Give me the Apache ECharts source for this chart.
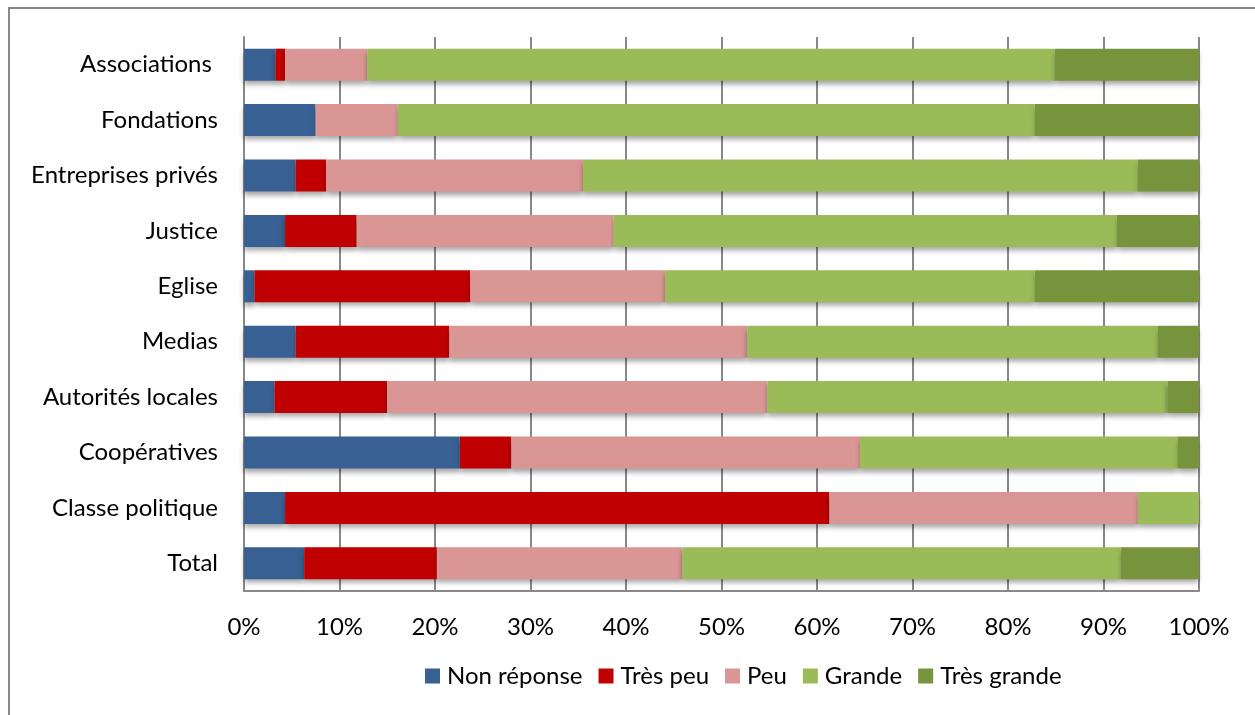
<!DOCTYPE html>
<html>
<head>
<meta charset="utf-8">
<script src="https://cdn.jsdelivr.net/npm/echarts@6/dist/echarts.min.js"></script>
<style>
html, body { margin: 0; padding: 0; background: #fff; }
#chart { width: 1255px; height: 715px; }
</style>
</head>
<body>
<div id="chart"></div>
<script>
"use strict";

var categories = ["Associations ", "Fondations", "Entreprises privés", "Justice", "Eglise",
    "Medias", "Autorités locales", "Coopératives", "Classe politique", "Total"];
var seriesNames = ["Non réponse", "Très peu", "Peu", "Grande", "Très grande"];
var nonReponse = [3.3, 7.5, 5.4, 4.3, 1.1, 5.4, 3.2, 22.6, 4.3, 6.3];
var tresPeu = [1.0, 0, 3.2, 7.5, 22.6, 16.1, 11.8, 5.4, 57.0, 13.9];
var peu = [8.6, 8.6, 26.9, 26.9, 20.4, 31.2, 39.8, 36.5, 32.3, 25.7];
var grande = [72.0, 66.7, 58.1, 52.7, 38.7, 43.0, 41.9, 33.3, 6.4, 45.9];
var tresGrande = [15.1, 17.2, 6.4, 8.6, 17.2, 4.3, 3.3, 2.2, 0, 8.2];
var colors = ["#386092", "#C00000", "#D99694", "#9BBB59", "#77933C"];

var chart = echarts.init(document.getElementById("chart"));
var allData = [nonReponse, tresPeu, peu, grande, tresGrande];
var series = [];
for (var i = 0; i < seriesNames.length; i++) {
    series.push({
        name: seriesNames[i],
        type: "bar",
        stack: "total",
        barWidth: 32,
        data: allData[i],
        itemStyle: {
            color: colors[i],
            shadowColor: "rgba(0,0,0,0.35)",
            shadowBlur: 5,
            shadowOffsetY: 4
        },
        emphasis: { disabled: true }
    });
}

var font = "Lato, 'Open Sans', sans-serif";

chart.setOption({
    animation: false,
    color: colors,
    grid: { left: 244, right: 56, top: 37, bottom: 124 },
    legend: {
        data: seriesNames,
        bottom: 22,
        left: 420,
        itemWidth: 15,
        itemHeight: 15,
        itemGap: 16,
        icon: "rect",
        textStyle: { fontFamily: font, fontSize: 24, color: "#000", padding: [0, 0, 0, 2] }
    },
    xAxis: {
        type: "value",
        min: 0,
        max: 100,
        interval: 10,
        axisLine: { show: true, lineStyle: { color: "#888", width: 2 } },
        axisTick: { show: false },
        splitLine: { show: true, lineStyle: { color: "#888", width: 2 } },
        axisLabel: {
            formatter: "{value}%",
            fontFamily: font,
            fontSize: 24,
            color: "#000",
            margin: 24
        }
    },
    yAxis: {
        type: "category",
        inverse: true,
        data: categories,
        axisLine: { show: true, lineStyle: { color: "#888", width: 2 } },
        axisTick: { show: false },
        axisLabel: {
            fontFamily: font,
            fontSize: 24,
            color: "#000",
            margin: 26
        }
    },
    graphic: [{
        type: "polyline",
        shape: { points: [[9, 720], [9, 8], [1260, 8]] },
        style: { stroke: "#888", lineWidth: 2, fill: null },
        silent: true
    }],
    series: series
});
</script>
</body>
</html>
